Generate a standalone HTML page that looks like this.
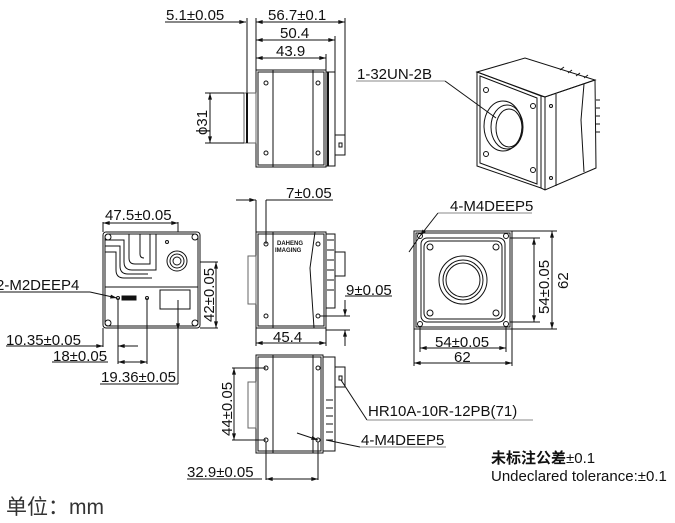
<!DOCTYPE html>
<html><head><meta charset="utf-8"><style>
html,body{margin:0;padding:0;background:#fff;}
svg{display:block;}
text{font-family:"Liberation Sans","Noto Sans CJK SC",sans-serif;fill:#111;}
</style></head><body>
<svg width="675" height="523" viewBox="0 0 675 523" xmlns="http://www.w3.org/2000/svg">
<defs>
<marker id="a" viewBox="0 0 10 6" refX="10" refY="3" markerWidth="8" markerHeight="4" orient="auto-start-reverse"><path d="M0,0L10,3L0,6z" fill="#111"/></marker>
</defs>
<g stroke="#111" stroke-width="1" fill="none">
<rect x="256" y="70" width="70" height="97"/>
<rect x="258" y="72" width="66" height="93"/>
<line x1="273" y1="70" x2="273" y2="167"/>
<line x1="313" y1="70" x2="313" y2="167"/>
<rect x="326" y="72" width="9" height="94"/>
<line x1="328" y1="72" x2="328" y2="166" stroke-width="2"/>
<rect x="244" y="93" width="12" height="50" stroke="#666"/>
<line x1="247" y1="93" x2="247" y2="143" stroke-width="2"/>
<rect x="335" y="135" width="10" height="20"/>
<rect x="339" y="143" width="3" height="4"/>
<circle cx="266" cy="83" r="2"/><circle cx="318" cy="83" r="2"/>
<circle cx="266" cy="153" r="2"/><circle cx="318" cy="153" r="2"/>
<line x1="165" y1="22" x2="245" y2="22"/>
<line x1="230" y1="22" x2="246" y2="22" marker-end="url(#a)"/>
<line x1="256" y1="22" x2="345" y2="22" marker-start="url(#a)" marker-end="url(#a)"/>
<line x1="256" y1="40" x2="335" y2="40" marker-start="url(#a)" marker-end="url(#a)"/>
<line x1="256" y1="58" x2="326" y2="58" marker-start="url(#a)" marker-end="url(#a)"/>
<line x1="247" y1="18" x2="247" y2="93"/>
<line x1="256" y1="18" x2="256" y2="70"/>
<line x1="345" y1="18" x2="345" y2="135"/>
<line x1="335" y1="36" x2="335" y2="72"/>
<line x1="326" y1="54" x2="326" y2="70"/>
<line x1="205" y1="93" x2="244" y2="93"/>
<line x1="205" y1="143" x2="244" y2="143"/>
<line x1="210" y1="93" x2="210" y2="143" marker-start="url(#a)" marker-end="url(#a)"/>

<line x1="356" y1="81" x2="445" y2="81" stroke="#888"/>
<line x1="445" y1="81" x2="496" y2="118"/>
<path d="M477,72 L541,96 L541,188 L477,166 Z"/>
<path d="M480,76 L537,98 L537,184 L480,163 Z"/>
<path d="M477,72 L525,58 L595,80 L545,97 Z"/>
<path d="M541,96 L545,97 L595,80 L596,168 L545,190 L541,188"/>
<line x1="545" y1="97" x2="545" y2="190"/>
<line x1="556" y1="94" x2="556" y2="186"/>
<line x1="584" y1="84" x2="581" y2="120"/><line x1="581" y1="120" x2="584" y2="172"/>
<ellipse cx="503" cy="126" rx="19" ry="25"/>
<ellipse cx="507" cy="127" rx="16" ry="22"/>
<ellipse cx="509" cy="128" rx="13" ry="19"/>
<circle cx="486" cy="90" r="2.5"/><circle cx="533" cy="106" r="2.5"/>
<circle cx="486" cy="154" r="2.5"/><circle cx="533" cy="170" r="2.5"/>
<circle cx="551" cy="106" r="1.5"/><circle cx="551" cy="178" r="1.5"/>
<path d="M596,100h4M596,108h4M596,116h4M596,124h4M596,132h4"/>
<path d="M560,70l4,-3M568,73l4,-3M576,76l4,-3M584,78l4,-3"/>

<rect x="103" y="232" width="97" height="96" rx="3"/>
<rect x="105" y="234" width="93" height="92" rx="3"/>
<line x1="105" y1="287" x2="198" y2="287"/>
<path d="M105,240 H124 V262 Q124,270 132,270 H156 V234"/>
<path d="M105,246 H120 V266 Q120,274 128,274 H148"/>
<path d="M105,252 H116 V270 Q116,278 124,278 H152"/>
<path d="M129,234 V258 Q129,264 135,264 H150 V234"/>
<path d="M140,234 V254 Q140,258 144,258"/>
<circle cx="177" cy="261" r="10"/><circle cx="177" cy="261" r="7"/><circle cx="177" cy="261" r="4"/>
<circle cx="167" cy="242" r="1.5"/>
<circle cx="108" cy="237" r="3"/><circle cx="195" cy="237" r="3"/>
<circle cx="108" cy="323" r="3"/><circle cx="195" cy="323" r="3"/>
<rect x="160" y="290" width="30" height="19"/>
<rect x="122" y="296" width="14" height="4" fill="#111"/>
<circle cx="118" cy="298" r="1.5"/><circle cx="147" cy="298" r="1.5"/>
<line x1="103" y1="222" x2="103" y2="232"/>
<line x1="178" y1="222" x2="178" y2="232"/>
<line x1="103" y1="223" x2="178" y2="223" marker-start="url(#a)" marker-end="url(#a)"/>
<line x1="200" y1="262" x2="218" y2="262"/>
<line x1="200" y1="328" x2="218" y2="328"/>
<line x1="216" y1="262" x2="216" y2="328" marker-start="url(#a)" marker-end="url(#a)"/>
<line x1="0" y1="292" x2="90" y2="292"/>
<line x1="90" y1="292" x2="117" y2="298" marker-end="url(#a)"/>
<line x1="103" y1="328" x2="103" y2="347"/>
<line x1="118" y1="298" x2="118" y2="364"/>
<line x1="147" y1="298" x2="147" y2="364"/>
<line x1="178" y1="300" x2="178" y2="384"/>
<line x1="178" y1="300" x2="178" y2="330" marker-end="url(#a)"/>
<line x1="6" y1="346" x2="102" y2="346"/>
<line x1="88" y1="346" x2="103" y2="346" marker-end="url(#a)"/>
<line x1="118" y1="346" x2="138" y2="346" marker-start="url(#a)"/>
<line x1="52" y1="362" x2="108" y2="362"/>
<line x1="118" y1="362" x2="147" y2="362" marker-start="url(#a)" marker-end="url(#a)"/>
<line x1="100" y1="384" x2="178" y2="384"/>

<rect x="256" y="232" width="70" height="96"/>
<rect x="258" y="234" width="66" height="92"/>
<line x1="273" y1="232" x2="273" y2="328"/>
<path d="M315,232 L310,268 L314,328"/>
<rect x="326" y="234" width="9" height="74"/>
<path d="M327,240h7M327,250h7M327,260h7M327,270h7M327,280h7M327,290h7"/>
<rect x="335" y="252" width="10" height="24"/>
<rect x="248" y="256" width="8" height="48" stroke="#666"/>
<circle cx="266" cy="244" r="2"/><circle cx="318" cy="244" r="2"/>
<circle cx="266" cy="316" r="2"/><circle cx="318" cy="316" r="2"/>
<line x1="256" y1="200" x2="256" y2="232"/>
<line x1="266" y1="200" x2="266" y2="244"/>
<line x1="236" y1="200" x2="256" y2="200" marker-end="url(#a)"/>
<line x1="266" y1="200" x2="333" y2="200"/>
<line x1="256" y1="328" x2="256" y2="346"/>
<line x1="326" y1="328" x2="326" y2="346"/>
<line x1="256" y1="343" x2="326" y2="343" marker-start="url(#a)" marker-end="url(#a)"/>
<line x1="320" y1="316" x2="350" y2="316"/>
<line x1="326" y1="330" x2="350" y2="330"/>
<line x1="345" y1="296" x2="392" y2="296"/>
<line x1="345" y1="300" x2="345" y2="316" marker-end="url(#a)"/>
<line x1="345" y1="346" x2="345" y2="330" marker-end="url(#a)"/>

<rect x="256" y="355" width="67" height="98"/>
<rect x="258" y="357" width="63" height="94"/>
<line x1="273" y1="355" x2="273" y2="453"/>
<line x1="313" y1="355" x2="313" y2="453"/>
<rect x="323" y="357" width="12" height="94"/>
<path d="M326,400h7M326,408h7M326,416h7M326,424h7M326,432h7M326,440h7"/>
<rect x="335" y="367" width="10" height="20"/>
<rect x="339" y="376" width="3" height="4"/>
<rect x="248" y="382" width="8" height="46" stroke="#666"/>
<circle cx="266" cy="368" r="2"/><circle cx="318" cy="368" r="2"/>
<circle cx="266" cy="440" r="2"/><circle cx="318" cy="440" r="2"/>
<line x1="232" y1="368" x2="266" y2="368"/>
<line x1="232" y1="440" x2="266" y2="440"/>
<line x1="234" y1="368" x2="234" y2="440" marker-start="url(#a)" marker-end="url(#a)"/>
<line x1="266" y1="442" x2="266" y2="480"/>
<line x1="318" y1="442" x2="318" y2="480"/>
<line x1="187" y1="479" x2="262" y2="479"/>
<line x1="266" y1="479" x2="318" y2="479" marker-start="url(#a)" marker-end="url(#a)"/>
<line x1="341" y1="380" x2="367" y2="420"/>
<line x1="367" y1="420" x2="533" y2="420" stroke="#888"/>
<line x1="297" y1="433" x2="318" y2="440" marker-end="url(#a)"/>
<line x1="326" y1="440" x2="360" y2="447"/>
<line x1="360" y1="447" x2="446" y2="447" stroke="#888"/>

<rect x="414" y="231" width="98" height="98"/>
<rect x="416" y="233" width="94" height="94"/>
<rect x="421" y="238" width="84" height="84" rx="6"/>
<rect x="424" y="241" width="78" height="78" rx="6"/>
<circle cx="463" cy="280" r="24"/><circle cx="463" cy="280" r="20"/><circle cx="463" cy="280" r="17"/>
<circle cx="430" cy="247" r="3"/><circle cx="496" cy="247" r="3"/>
<circle cx="430" cy="313" r="3"/><circle cx="496" cy="313" r="3"/>
<circle cx="420" cy="236" r="2.5"/><circle cx="506" cy="236" r="2.5"/>
<circle cx="420" cy="324" r="2.5"/><circle cx="506" cy="324" r="2.5"/>
<line x1="438" y1="213" x2="532" y2="213" stroke="#888"/>
<line x1="438" y1="213" x2="420" y2="236" marker-end="url(#a)"/>
<line x1="420" y1="236" x2="409" y2="252"/>
<line x1="510" y1="238" x2="540" y2="238"/>
<line x1="510" y1="322" x2="540" y2="322"/>
<line x1="512" y1="231" x2="557" y2="231"/>
<line x1="512" y1="329" x2="557" y2="329"/>
<line x1="534" y1="238" x2="534" y2="322" marker-start="url(#a)" marker-end="url(#a)"/>
<line x1="552" y1="231" x2="552" y2="329" marker-start="url(#a)" marker-end="url(#a)"/>
<line x1="420" y1="326" x2="420" y2="352"/>
<line x1="506" y1="326" x2="506" y2="352"/>
<line x1="414" y1="329" x2="414" y2="366"/>
<line x1="512" y1="329" x2="512" y2="366"/>
<line x1="420" y1="348" x2="506" y2="348" marker-start="url(#a)" marker-end="url(#a)"/>
<line x1="414" y1="363" x2="512" y2="363" marker-start="url(#a)" marker-end="url(#a)"/>
</g>
<g font-size="15">
<text x="166" y="20">5.1±0.05</text>
<text x="268" y="20">56.7±0.1</text>
<text x="280" y="38">50.4</text>
<text x="276" y="56">43.9</text>
<text x="0" y="0" transform="translate(207,135) rotate(-90)">ϕ31</text>
<text x="357" y="79">1-32UN-2B</text>
<text x="105" y="220">47.5±0.05</text>
<text x="0" y="0" transform="translate(214,322) rotate(-90)">42±0.05</text>
<text x="-4" y="290">2-M2DEEP4</text>
<text x="6" y="345">10.35±0.05</text>
<text x="53" y="361">18±0.05</text>
<text x="101" y="382">19.36±0.05</text>
<text x="286" y="198">7±0.05</text>
<text x="346" y="295">9±0.05</text>
<text x="273" y="342">45.4</text>
<text x="0" y="0" transform="translate(232,436) rotate(-90)">44±0.05</text>
<text x="187" y="477">32.9±0.05</text>
<text x="368" y="416">HR10A-10R-12PB(71)</text>
<text x="361" y="445">4-M4DEEP5</text>
<text x="450" y="211">4-M4DEEP5</text>
<text x="0" y="0" transform="translate(549,314) rotate(-90)">54±0.05</text>
<text x="0" y="0" transform="translate(568,289) rotate(-90)">62</text>
<text x="435" y="347">54±0.05</text>
<text x="454" y="362">62</text>
<text x="491" y="463"><tspan font-weight="bold">未标注公差</tspan>±0.1</text>
<text x="491" y="481">Undeclared tolerance:±0.1</text>
</g>
<text x="6" y="514" font-size="21" style="fill:#333">单位：mm</text>
<g font-size="6" font-weight="bold"><text x="277" y="245">DAHENG</text><text x="275" y="252">IMAGING</text></g>
</svg>
</body></html>
